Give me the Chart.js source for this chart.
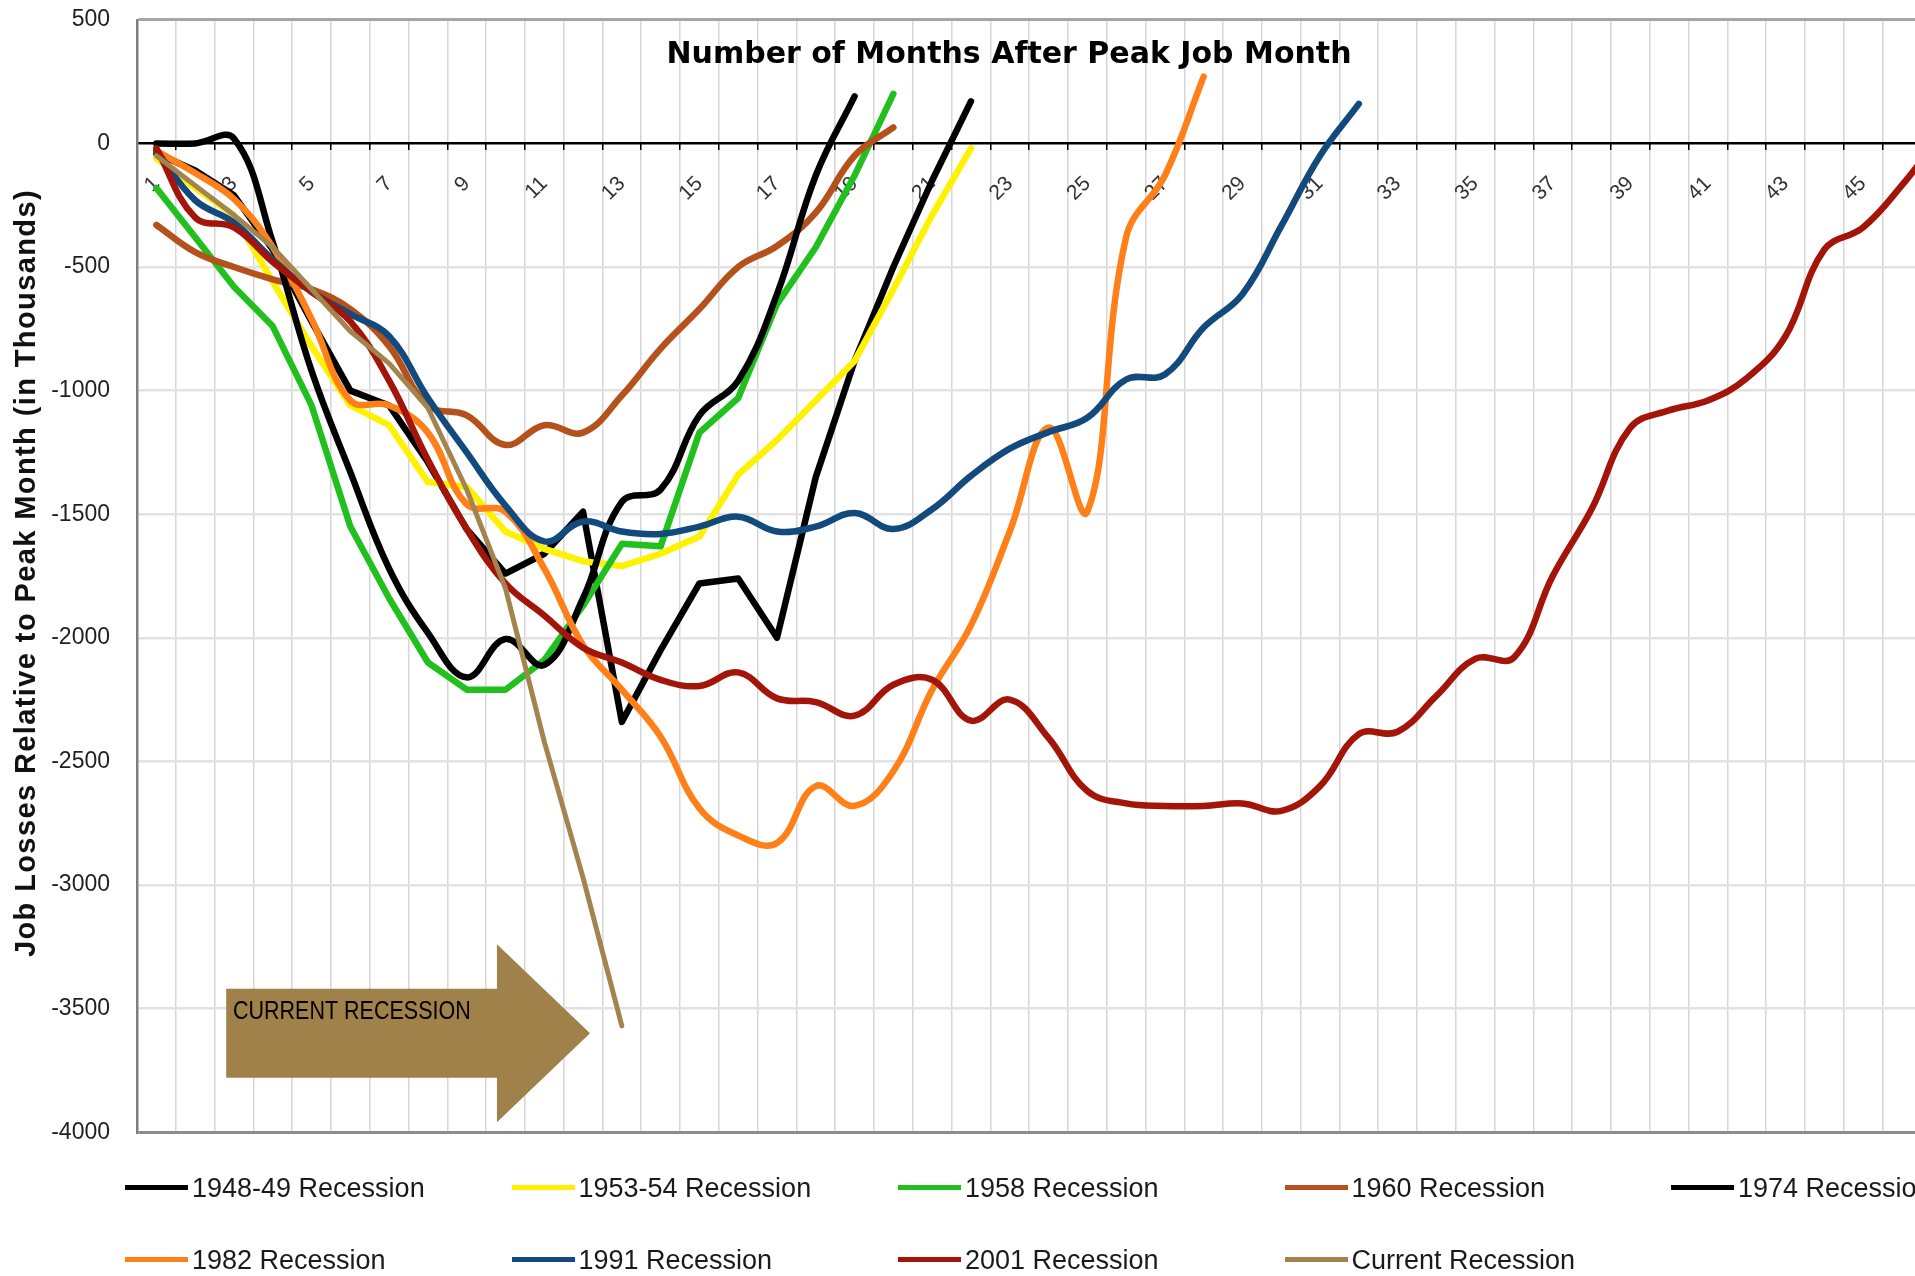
<!DOCTYPE html>
<html>
<head>
<meta charset="utf-8">
<script src="https://cdn.jsdelivr.net/npm/chart.js@4.4.1/dist/chart.umd.min.js"></script>
<style>
  html, body { margin: 0; padding: 0; background: #fff; }
  #wrap { position: relative; width: 1915px; height: 1276px; overflow: hidden; }
  #grafico { position: absolute; left: 0; top: -21px; }
  #legenda { position: absolute; left: 0; top: 0; width: 1915px; height: 1276px; }
  .item { position: absolute; height: 34px; line-height: 34px; white-space: nowrap;
          font-family: "Liberation Sans", Arial, sans-serif; font-size: 27px; color: #1a1a1a; }
  .item .linha { display: inline-block; width: 63px; height: 5px; vertical-align: middle; margin-right: 4px; position: relative; top: -2px; }
</style>
</head>
<body>
<div id="wrap">
  <canvas id="grafico" width="1990" height="1194"></canvas>
  <div id="legenda"></div>
</div>
<script>
// meses depois do pico de emprego
var meses = ['1','2','3','4','5','6','7','8','9','10','11','12','13','14','15','16','17','18','19','20',
             '21','22','23','24','25','26','27','28','29','30','31','32','33','34','35','36','37','38','39','40',
             '41','42','43','44','45','46','47'];

// perda de empregos em relacao ao pico (milhares)
var rec1948 = [-40, -110, -210, -430, -720, -1000, -1060, -1290, -1560, -1740, -1660, -1490, -2340, -2050,
               -1780, -1760, -2000, -1350, -880, -500, -150, 170];
var rec1953 = [-60, -180, -290, -560, -820, -1060, -1140, -1370, -1390, -1570, -1640, -1690, -1710, -1660,
               -1590, -1340, -1200, -1040, -880, -590, -290, -20];
var rec1958 = [-180, -380, -580, -740, -1060, -1550, -1840, -2100, -2210, -2210, -2090, -1870, -1620, -1630,
               -1170, -1030, -650, -420, -130, 200];
var rec1960 = [-330, -440, -500, -550, -590, -670, -820, -1060, -1100, -1220, -1140, -1170, -1020, -830,
               -670, -500, -415, -280, -50, 65];
var rec1974 = [0, 0, 20, -400, -920, -1330, -1720, -1980, -2160, -2005, -2110, -1840, -1450, -1400,
               -1100, -960, -610, -130, 190];
var rec1982 = [-30, -120, -225, -420, -710, -1040, -1060, -1170, -1460, -1490, -1720, -2030, -2210, -2400,
               -2690, -2800, -2830, -2600, -2680, -2540, -2210, -1950, -1570, -1150, -1490, -380, -130, 270];
var rec1991 = [-30, -230, -320, -470, -600, -690, -780, -1030, -1250, -1465, -1610, -1530, -1570, -1580,
               -1550, -1510, -1570, -1550, -1495, -1560, -1480, -1345, -1235, -1168, -1110, -955, -935, -745,
               -610, -335, -50, 160];
var rec2001 = [-20, -300, -340, -480, -600, -720, -960, -1280, -1560, -1780, -1910, -2040, -2100, -2170,
               -2195, -2140, -2245, -2260, -2315, -2190, -2170, -2335, -2250, -2405, -2620, -2670, -2680, -2680,
               -2670, -2700, -2600, -2390, -2380, -2235, -2085, -2080, -1750, -1480, -1150, -1080, -1040, -950,
               -780, -430, -340, -170, 30];
var recAtual = [-50, -170, -290, -420, -590, -760, -890, -1070, -1400, -1800, -2420, -2970, -3570];

var nomes = ['1948-49 Recession', '1953-54 Recession', '1958 Recession', '1960 Recession', '1974 Recession',
             '1982 Recession', '1991 Recession', '2001 Recession', 'Current Recession'];
var series = [rec1948, rec1953, rec1958, rec1960, rec1974, rec1982, rec1991, rec2001, recAtual];
var cores = ['#000000', '#fff200', '#22c01e', '#b5521b', '#000000', '#ff8018', '#134a7e', '#a31508', '#a3844e'];
var suave = [false, false, false, true, true, true, true, true, false];

var fonte = '"Liberation Sans", Arial, sans-serif';

var datasets = series.map(function(valores, i) {
    return {
        label: nomes[i],
        data: valores,
        borderColor: cores[i],
        backgroundColor: cores[i],
        borderWidth: i === 8 ? 5 : 6.5,
        tension: suave[i] ? 0.4 : 0,
        pointRadius: 0,
        fill: false,
        order: 20 - i, // as ultimas series ficam por cima
        borderCapStyle: 'round',
        borderJoinStyle: 'round'
    };
});

// seta "CURRENT RECESSION", titulo do eixo x e titulo do eixo y
var textos = {
    id: 'textos',
    beforeDatasetsDraw: function(chart) {
        var ctx = chart.ctx, x = chart.scales.x, y = chart.scales.y;
        ctx.save();
        ctx.fillStyle = '#a08149';
        ctx.beginPath();
        ctx.moveTo(x.getPixelForValue(1.8), y.getPixelForValue(-3420));
        ctx.lineTo(x.getPixelForValue(8.78), y.getPixelForValue(-3420));
        ctx.lineTo(x.getPixelForValue(8.78), y.getPixelForValue(-3240));
        ctx.lineTo(x.getPixelForValue(11.18), y.getPixelForValue(-3600));
        ctx.lineTo(x.getPixelForValue(8.78), y.getPixelForValue(-3960));
        ctx.lineTo(x.getPixelForValue(8.78), y.getPixelForValue(-3780));
        ctx.lineTo(x.getPixelForValue(1.8), y.getPixelForValue(-3780));
        ctx.closePath();
        ctx.fill();
        ctx.translate(x.getPixelForValue(1.975), y.getPixelForValue(-3513));
        ctx.scale(0.86, 1);
        ctx.fillStyle = '#000';
        ctx.font = '25px ' + fonte;
        ctx.textAlign = 'left';
        ctx.textBaseline = 'middle';
        ctx.fillText('CURRENT RECESSION', 0, 0);
        ctx.restore();
    },
    afterDraw: function(chart) {
        var ctx = chart.ctx, area = chart.chartArea;
        ctx.save();
        ctx.fillStyle = '#000';
        ctx.font = 'bold 30px "DejaVu Sans", Verdana, sans-serif';
        ctx.textAlign = 'center';
        ctx.textBaseline = 'middle';
        ctx.fillText('Number of Months After Peak Job Month', area.left + 872, area.top + 35);

        ctx.translate(27, (area.top + area.bottom) / 2 - 3);
        ctx.rotate(-Math.PI / 2);
        ctx.font = 'bold 29px ' + fonte;
        ctx.letterSpacing = '1.4px';
        ctx.fillStyle = '#111';
        ctx.fillText('Job Losses Relative to Peak Month (in Thousands)', 0, 0);
        ctx.restore();
    }
};

var ctx = document.getElementById('grafico').getContext('2d');
var chart = new Chart(ctx, {
    type: 'line',
    data: { labels: meses, datasets: datasets },
    plugins: [textos],
    options: {
        responsive: false,
        animation: false,
        layout: { padding: { left: 0, top: 0, right: 30, bottom: 0 } },
        plugins: { legend: { display: false }, tooltip: { enabled: false } },
        scales: {
            x: {
                type: 'category',
                offset: true,
                position: { y: 0 },
                grid: { offset: true, color: '#d6d6d6', lineWidth: 1.5, tickColor: '#000', tickLength: 6, tickWidth: 1.5 },
                border: { color: '#000', width: 2 },
                ticks: {
                    autoSkip: false, minRotation: 45, maxRotation: 45, padding: 22,
                    color: '#333', font: { family: fonte, size: 21 },
                    callback: function(v, i) { return i % 2 === 0 ? meses[i] : ''; }
                }
            },
            y: {
                min: -4000, max: 500,
                afterFit: function(scale) { scale.width = 137; },
                grid: {
                    drawTicks: false,
                    color: function(c) {
                        var v = c.tick.value;
                        if (v === 0) return '#000';
                        if (v === 500) return '#a6a6a6';
                        if (v === -4000) return '#8c8c8c';
                        return '#e2e2e2';
                    },
                    lineWidth: function(c) {
                        var v = c.tick.value;
                        return (v === 500 || v === -4000) ? 3 : 2.5;
                    }
                },
                border: { color: '#7f7f7f', width: 2.5 },
                ticks: {
                    stepSize: 500, padding: 27, color: '#1f1f1f', font: { family: fonte, size: 23 },
                    callback: function(v) { return String(v); }
                }
            }
        }
    }
});

// legenda em duas linhas, cinco colunas
var legenda = document.getElementById('legenda');
chart.data.datasets.forEach(function(ds, i) {
    var col = i % 5, lin = Math.floor(i / 5);
    var el = document.createElement('div');
    el.className = 'item';
    el.style.left = (125 + col * 386.5) + 'px';
    el.style.top = (1188 + lin * 72 - 17) + 'px';
    var linha = document.createElement('span');
    linha.className = 'linha';
    linha.style.background = ds.borderColor;
    el.appendChild(linha);
    el.appendChild(document.createTextNode(ds.label));
    legenda.appendChild(el);
});
</script>
</body>
</html>
